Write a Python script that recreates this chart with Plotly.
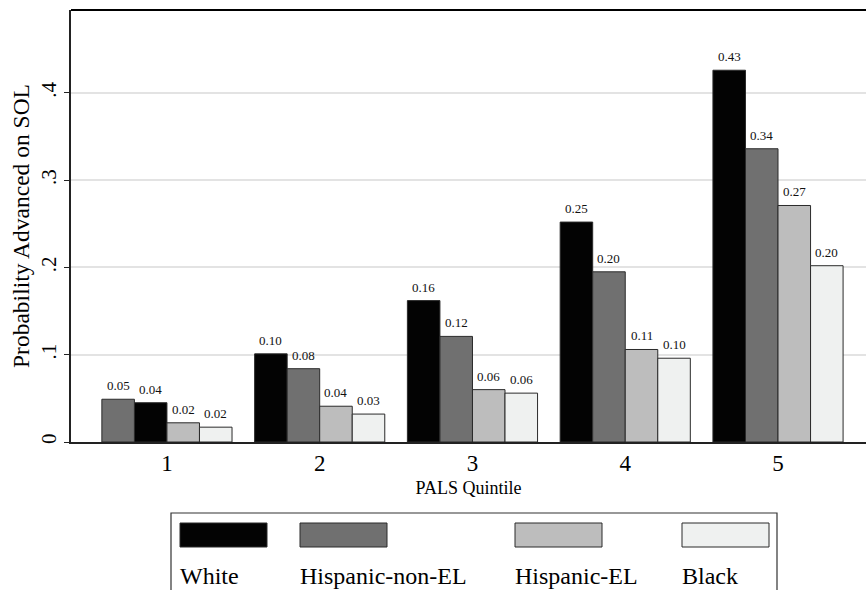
import plotly.graph_objects as go

quintiles = [1, 2, 3, 4, 5]
tick_labels = ["1", "2", "3", "4", "5"]
series_names = ["White", "Hispanic-non-EL", "Hispanic-EL", "Black"]
white = [0.045, 0.101, 0.162, 0.252, 0.426]
hisp_non_el = [0.049, 0.084, 0.121, 0.195, 0.336]
hisp_el = [0.022, 0.041, 0.060, 0.106, 0.271]
black = [0.017, 0.032, 0.056, 0.096, 0.202]
series_values = [white, hisp_non_el, hisp_el, black]
colors = ["#030303", "#707070", "#bdbdbd", "#eff1f0"]

FONT = "Liberation Serif"
W, H = 866, 590
ML, MR, MT, MB = 71, 0, 10, 148
PW, PH = W - ML - MR, H - MT - MB

bar_w = 0.213

# rank bars within each quintile in descending order (as in the original)
ranks = [[0] * len(quintiles) for _ in series_names]
for qi in range(len(quintiles)):
    vals = [(series_values[s][qi], s) for s in range(len(series_names))]
    vals.sort(key=lambda t: -t[0])
    for r, (_, s) in enumerate(vals):
        ranks[s][qi] = r

fig = go.Figure()
annotations = []
for s, name in enumerate(series_names):
    xs = [q + (ranks[s][qi] - 1.5) * bar_w for qi, q in enumerate(quintiles)]
    fig.add_trace(go.Bar(
        x=xs, y=series_values[s], width=bar_w, name=name,
        marker=dict(color=colors[s], line=dict(color="#2a2a2a", width=1)),
        showlegend=False,
    ))
    for x, v in zip(xs, series_values[s]):
        annotations.append(dict(x=x, y=v, xref="x", yref="y", text=f"{v:.2f}",
                                showarrow=False, yanchor="bottom", yshift=4,
                                font=dict(family=FONT, size=13, color="#111")))

def px_x(p):
    return (p - ML) / PW

def px_y(p):
    return (H - MB - p) / PH

shapes = [
    dict(type="line", xref="paper", yref="paper", x0=0, x1=1, y0=1, y1=1,
         line=dict(color="black", width=2)),
    dict(type="rect", xref="paper", yref="paper",
         x0=px_x(171), x1=px_x(777), y0=px_y(513), y1=px_y(620),
         line=dict(color="#333", width=1.2), fillcolor="rgba(0,0,0,0)"),
]
leg_x = [180, 300, 515, 682]
for s, name in enumerate(series_names):
    shapes.append(dict(type="rect", xref="paper", yref="paper",
                       x0=px_x(leg_x[s]), x1=px_x(leg_x[s] + 87),
                       y0=px_y(547), y1=px_y(523),
                       fillcolor=colors[s], line=dict(color="#2a2a2a", width=1)))
    annotations.append(dict(xref="paper", yref="paper", x=px_x(leg_x[s] - 2), y=px_y(576),
                            text=name, showarrow=False, xanchor="left", yanchor="middle",
                            font=dict(family=FONT, size=24, color="black")))

fig.update_layout(
    width=W, height=H,
    margin=dict(l=ML, r=MR, t=MT, b=MB, pad=0),
    plot_bgcolor="white", paper_bgcolor="white",
    barmode="overlay",
    shapes=shapes, annotations=annotations,
    xaxis=dict(range=[0.372, 5.576], tickvals=quintiles, ticktext=tick_labels,
               ticks="", showline=True, linecolor="#222", linewidth=1.5,
               showgrid=False, zeroline=False,
               tickfont=dict(family=FONT, size=23, color="black"),
               title=dict(text="PALS Quintile", standoff=6,
                          font=dict(family=FONT, size=18, color="black"))),
    yaxis=dict(range=[0, 0.495], tickvals=[0, 0.1, 0.2, 0.3, 0.4],
               ticktext=["0", ".1", ".2", ".3", ".4"], tickangle=-90,
               ticks="outside", ticklen=5, tickcolor="#222", tickwidth=1.2,
               showline=True, linecolor="#222", linewidth=1.5,
               showgrid=True, gridcolor="#e3e3e3", gridwidth=1.5, zeroline=False,
               tickfont=dict(family=FONT, size=21, color="black"),
               title=dict(text="Probability Advanced on SOL", standoff=1,
                          font=dict(family=FONT, size=23.5, color="black"))),
)

fig.write_html("out.html", config={"displayModeBar": False},
               post_script="document.body.style.margin='0';document.body.style.overflow='hidden';")
